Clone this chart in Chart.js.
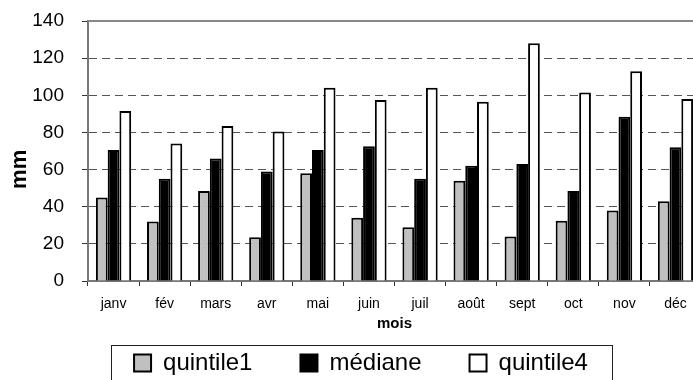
<!DOCTYPE html>
<html lang="fr">
<head>
  <meta charset="UTF-8" />
  <title>Précipitations mensuelles</title>
  <script src="https://cdn.jsdelivr.net/npm/chart.js@4.4.0/dist/chart.umd.min.js"></script>
  <style>
    html, body {
      margin: 0;
      padding: 0;
      background: #fff;
    }
    .chart-wrap {
      width: 693px;
      height: 380px;
      overflow: hidden;
    }
  </style>
</head>
<body>
  <div class="chart-wrap">
    <canvas id="rain-chart" width="705" height="385"></canvas>
  </div>

  <script>
    // values (mm)
    var months = ["janv", "fév", "mars", "avr", "mai", "juin", "juil", "août", "sept", "oct", "nov", "déc"];
    var quintile1 = [45, 32, 48.5, 23.5, 58, 34, 29, 54, 24, 32.5, 38, 43];
    var mediane = [70.5, 55, 66, 59, 70.5, 72.5, 55, 62, 63, 48.5, 88.5, 72];
    var quintile4 = [91.5, 74, 83.5, 80.5, 104, 97.5, 104, 96.5, 128, 101.5, 113, 98];
    var seriesNames = ["quintile1", "médiane", "quintile4"];

    Chart.defaults.font.family = "'Liberation Sans', Arial, sans-serif";
    Chart.defaults.color = "#000";

    // moves the legend a bit right, draws the frame around it and the top edge of the plot
    var chartFrame = {
      id: "chartFrame",
      afterLayout: function (chart) {
        chart.legend.left += 10.5;
        chart.legend.right += 10.5;
      },
      afterDraw: function (chart) {
        var area = chart.chartArea;
        var lg = chart.legend;
        var cx = (lg.left + lg.right) / 2;
        var ctx = chart.ctx;
        ctx.save();
        ctx.setLineDash([]);
        ctx.strokeStyle = "#888";
        ctx.lineWidth = 2;
        ctx.beginPath();
        ctx.moveTo(area.left, area.top);
        ctx.lineTo(chart.width, area.top);
        ctx.stroke();

        ctx.strokeStyle = "#222";
        ctx.lineWidth = 1;
        ctx.strokeRect(Math.round(cx - 250.5) + 0.5, lg.top + 42.5, 501, 80);
        ctx.restore();
      }
    };

    var ctx = document.getElementById("rain-chart").getContext("2d");
    var rainChart = new Chart(ctx, {
      type: "bar",
      data: {
        labels: months,
        datasets: [
          {
            label: seriesNames[0],
            data: quintile1,
            backgroundColor: "#c0c0c0",
            borderColor: "#000",
            borderWidth: 2
          },
          {
            label: seriesNames[1],
            data: mediane,
            backgroundColor: "#000",
            borderColor: "#000",
            borderWidth: 2
          },
          {
            label: seriesNames[2],
            data: quintile4,
            backgroundColor: "#fff",
            borderColor: "#000",
            borderWidth: 2
          }
        ]
      },
      options: {
        responsive: false,
        animation: false,
        layout: {
          padding: { top: 21, right: 4, bottom: 0, left: 0 }
        },
        datasets: {
          bar: {
            barPercentage: 1,
            categoryPercentage: 0.69
          }
        },
        plugins: {
          tooltip: { enabled: false },
          legend: {
            position: "bottom",
            labels: {
              boxWidth: 17,
              boxHeight: 17,
              padding: 48,
              color: "#000",
              font: { size: 24 }
            }
          }
        },
        scales: {
          x: {
            afterFit: function (scale) {
              scale.height = 22;
            },
            grid: {
              offset: true,
              drawOnChartArea: false,
              drawTicks: true,
              tickLength: 5,
              tickColor: "#333",
              tickBorderDash: []
            },
            border: {
              display: true,
              color: "#777",
              width: 2
            },
            ticks: {
              // mirror keeps the labels from being clipped to the short axis box
              mirror: true,
              padding: -32,
              font: { size: 14 }
            },
            title: {
              display: true,
              text: "mois",
              font: { size: 15, weight: "bold" },
              padding: { top: 0, bottom: -30 }
            }
          },
          y: {
            min: 0,
            max: 140,
            afterFit: function (scale) {
              scale.width = 88;
              scale.paddingTop = 0;
              scale.paddingBottom = 0;
            },
            grid: {
              drawTicks: true,
              tickLength: 6,
              tickColor: "#333",
              tickBorderDash: [],
              color: function (c) {
                if (c.tick && (c.tick.value === 0 || c.tick.value === 140)) return "rgba(0,0,0,0)";
                return "#555";
              }
            },
            border: {
              display: true,
              color: "#777",
              width: 2,
              dash: function (c) {
                return c.tick ? [8, 5] : [];
              }
            },
            ticks: {
              stepSize: 20,
              padding: 18,
              font: { size: 19 }
            },
            title: {
              display: true,
              text: "mm      ",
              font: { size: 22, weight: "bold" },
              padding: { top: 7, bottom: 0 }
            }
          }
        }
      },
      plugins: [chartFrame]
    });
  </script>
</body>
</html>
